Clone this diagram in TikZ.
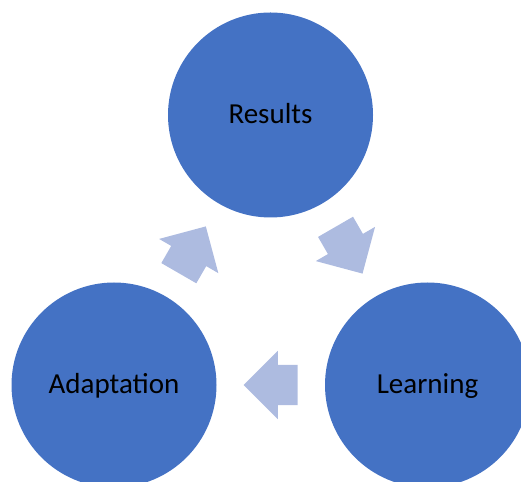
\documentclass[tikz,border=0pt]{standalone}
\usepackage{fontspec}
\setmainfont{Carlito}
\usetikzlibrary{shapes, arrows, positioning, calc}

\definecolor{stageblue}{HTML}{4472C4}
\definecolor{flowblue}{HTML}{ADBBE0}

\begin{document}
\begin{tikzpicture}[x=1pt, y=1pt,
    stage/.style={circle, fill=stageblue, minimum size=205pt, inner sep=0pt,
        text height=18pt, text depth=0pt, font=\fontsize{29}{34}\selectfont},
    flow/.style={single arrow, fill=flowblue, minimum height=54pt, minimum width=68pt,
        single arrow head extend=14pt, single arrow head indent=0pt,
        inner xsep=0pt, inner ysep=20pt, anchor=tail}]
    \clip (0,0) rectangle (521,481);
    % the three stages
    \node[stage] (res) at (270.5,366) {Results};
    \node[stage] (adapt) at (114,96) {Adaptation};
    \node[stage] (learn) at (427.5,96) {Learning};
    % block arrows between them, tail 27pt back from the midpoint
    \node[flow, rotate=-60] (resflow) at ($(res)!0.5!(learn)!27pt!(res)$) {};
    \node[flow, rotate=180] (learnflow) at ($(learn)!0.5!(adapt)!27pt!(learn)$) {};
    \node[flow, rotate=60] (adaptflow) at ($(adapt)!0.5!(res)!27pt!(adapt)$) {};
\end{tikzpicture}
\end{document}
